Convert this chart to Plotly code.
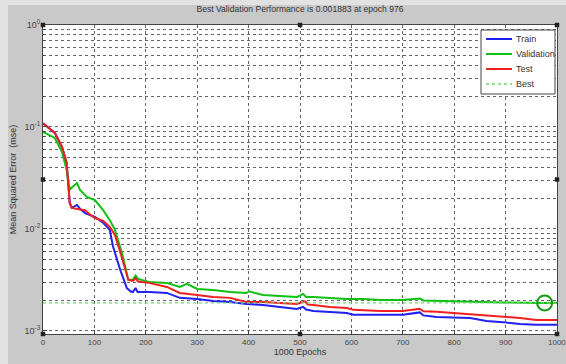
import plotly.graph_objects as go

# Training record (epochs and mean squared error)
train_epochs = [0, 23, 37, 46, 49, 52, 56, 60, 66, 72, 82, 101, 117, 130, 136, 150, 163,
                170, 175, 180, 184, 206, 241, 266, 300, 331, 364, 396, 428, 461, 494,
                506, 512, 526, 558, 591, 604, 656, 700, 733, 740, 766, 831, 863, 895,
                928, 960, 1000]
train_mse = [0.109, 0.0873, 0.0637, 0.0444, 0.0282, 0.018, 0.0161, 0.0165, 0.0172, 0.0158,
             0.0143, 0.0131, 0.0115, 0.0098, 0.0068, 0.0040, 0.00264,
             0.00245, 0.00241, 0.00264, 0.00241, 0.00241, 0.00236, 0.00211, 0.00206,
             0.00197, 0.00192, 0.00184, 0.00180, 0.00172, 0.00164,
             0.00172, 0.00162, 0.00157, 0.00154, 0.00150, 0.00144, 0.00144, 0.00144,
             0.00152, 0.00142, 0.00137, 0.00134, 0.00125, 0.00122,
             0.00117, 0.00115, 0.00115]

test_epochs = [0, 23, 37, 46, 49, 52, 56, 62, 72, 82, 90, 101, 117, 130, 140, 150, 166,
               175, 180, 185, 206, 241, 266, 300, 331, 364, 396, 428, 461, 494, 510,
               515, 526, 558, 591, 604, 656, 700, 733, 740, 766, 798, 831, 863, 895,
               928, 960, 1000]
test_mse = [0.109, 0.0873, 0.0637, 0.0444, 0.0282, 0.018, 0.0161, 0.0158, 0.0155, 0.0153,
            0.0140, 0.0128, 0.0120, 0.0105, 0.0087, 0.0060, 0.00316,
            0.00310, 0.00330, 0.00305, 0.00296, 0.00270, 0.00236, 0.00225, 0.00215,
            0.00211, 0.00192, 0.00192, 0.00188, 0.00184, 0.00195,
            0.00182, 0.00180, 0.00172, 0.00168, 0.00161, 0.00157, 0.00157, 0.00165,
            0.00156, 0.00154, 0.00150, 0.00144, 0.00140, 0.00137,
            0.00134, 0.00128, 0.00128]

val_epochs = [0, 23, 37, 46, 52, 55, 66, 72, 85, 101, 117, 130, 140, 155, 166, 175, 180,
              185, 206, 241, 266, 280, 300, 331, 364, 396, 400, 428, 461, 494, 506, 512,
              526, 558, 591, 623, 656, 700, 733, 740, 766, 831, 895, 976, 1000]
val_mse = [0.0893, 0.078, 0.0569, 0.0379, 0.0241, 0.0252, 0.0282, 0.0241, 0.0206, 0.0192,
           0.0153, 0.0122, 0.0098, 0.0055, 0.00316, 0.00320, 0.00350,
           0.00324, 0.00302, 0.00296, 0.00270, 0.00290, 0.00258, 0.00252, 0.00241,
           0.00236, 0.00245, 0.00225, 0.00220, 0.00215, 0.00231, 0.00215,
           0.00215, 0.00211, 0.00206, 0.00206, 0.00201, 0.00201, 0.00208, 0.00199,
           0.00197, 0.00192, 0.00190, 0.001883, 0.00189]

best_epoch = 976
best_perf = 0.001883

x_ticks = [0, 100, 200, 300, 400, 500, 600, 700, 800, 900, 1000]
decades = [-3, -2, -1, 0]

# decade ticks carry the labels; digits 2..9 get minor grid lines
y_major = [10.0 ** d for d in decades]
y_major_text = [f"10<sup>{d}</sup>" for d in decades]
y_minor = [m * 10.0 ** d for d in decades[:-1] for m in range(2, 10)]

W, H = 566, 364
L, R, T, B = 43, 9, 25, 30
pw, ph = W - L - R, H - T - B
paper_w = W - L  # paper runs to the right edge; the x axis domain stops short of it

def px(x):
    return (x - L) / paper_w

def py(y):
    return (H - B - y) / ph

series = [
    dict(name="Train", x=train_epochs, y=train_mse, color="#2020f0", width=2, dash="solid"),
    dict(name="Validation", x=val_epochs, y=val_mse, color="#10c010", width=2, dash="solid"),
    dict(name="Test", x=test_epochs, y=test_mse, color="#f02020", width=2, dash="solid"),
    dict(name="Best", x=[0, 1000], y=[best_perf, best_perf], color="#70d870", width=1.3,
         dash="dot"),
]

fig = go.Figure()
for s in series:
    fig.add_trace(go.Scatter(x=s["x"], y=s["y"], mode="lines", name=s["name"],
                             showlegend=False,
                             line=dict(color=s["color"], width=s["width"], dash=s["dash"])))
fig.add_trace(go.Scatter(x=[best_epoch], y=[best_perf], mode="markers", showlegend=False,
                         marker=dict(symbol="circle-open", size=15, color="#119911",
                                     line=dict(color="#119911", width=2))))

font = "Liberation Sans, Arial, sans-serif"
axis_common = dict(
    showline=True, mirror=True, linecolor="#444", linewidth=1,
    ticks="inside", ticklen=4, tickcolor="#444",
    showgrid=True, gridcolor="#666", griddash="dot", gridwidth=1,
    zeroline=False,
)

# the last x label sits on the figure edge, where the axis would drop it,
# so the axis labels 0..900 and the final value is placed at its data position
fig.update_xaxes(range=[0, 1000], tickvals=x_ticks[:-1], domain=[0, pw / paper_w],
                 tickfont=dict(family=font, size=8, color="#444"),
                 title=dict(text="1000 Epochs", font=dict(family=font, size=9, color="#333"),
                            standoff=3),
                 **axis_common)
fig.update_yaxes(type="log", range=[-3.03, 0], tickvals=y_major, ticktext=y_major_text,
                 tickfont=dict(family=font, size=9, color="#444"),
                 minor=dict(tickvals=y_minor, showgrid=True, gridcolor="#666",
                            griddash="dot", gridwidth=1, ticks="inside", ticklen=2,
                            tickcolor="#444"),
                 title=dict(text="Mean Squared Error  (mse)",
                            font=dict(family=font, size=9, color="#333"), standoff=6),
                 **axis_common)

# frame strips and selection handles around the axes box
shapes = [
    dict(type="rect", xref="paper", yref="paper", x0=px(0), x1=px(8), y0=py(0), y1=py(H),
         fillcolor="#e2e2e2", line=dict(width=0), layer="below"),
    dict(type="rect", xref="paper", yref="paper", x0=px(0), x1=px(W), y0=py(0), y1=py(5),
         fillcolor="#e2e2e2", line=dict(width=0), layer="below"),
]
for hx in (L, L + pw / 2, L + pw):
    for hy in (T, T + ph / 2, T + ph):
        if hx == L + pw / 2 and hy == T + ph / 2:
            continue
        shapes.append(dict(type="rect", xref="paper", yref="paper",
                           x0=px(hx - 2), x1=px(hx + 2), y0=py(hy + 2), y1=py(hy - 2),
                           fillcolor="#222", line=dict(color="#222", width=0.5)))

annotations = [dict(text=str(x_ticks[-1]), xref="x", yref="paper", x=x_ticks[-1],
                    y=py(H - B + 2), xanchor="center", yanchor="top", showarrow=False,
                    font=dict(family=font, size=8, color="#444"))]

# compact legend box in the upper right corner
lg_x0, lg_x1, lg_y0, lg_y1 = 481, 555, 30, 94
shapes.append(dict(type="rect", xref="paper", yref="paper",
                   x0=px(lg_x0), x1=px(lg_x1), y0=py(lg_y1), y1=py(lg_y0),
                   fillcolor="#ffffff", line=dict(color="#444", width=1)))
for i, s in enumerate(series):
    yy = 39 + i * 15
    shapes.append(dict(type="line", xref="paper", yref="paper",
                       x0=px(486), x1=px(512), y0=py(yy), y1=py(yy),
                       line=dict(color=s["color"], width=s["width"], dash=s["dash"])))
    annotations.append(dict(text=s["name"], xref="paper", yref="paper",
                            x=px(514), y=py(yy), xanchor="left", yanchor="middle",
                            showarrow=False,
                            font=dict(family=font, size=9, color="#333")))

fig.update_layout(
    width=W, height=H,
    margin=dict(l=L, r=0, t=T, b=B),
    paper_bgcolor="#c9c9c9", plot_bgcolor="#ffffff",
    title=dict(text="Best Validation Performance is 0.001883 at epoch 976",
               font=dict(family=font, size=8.6, color="#333"),
               x=(300 - L) / paper_w, xanchor="center", y=1 - 9 / H, yanchor="middle",
               xref="paper"),
    shapes=shapes,
    annotations=annotations,
    showlegend=False,
)

fig.write_html("out.html")
